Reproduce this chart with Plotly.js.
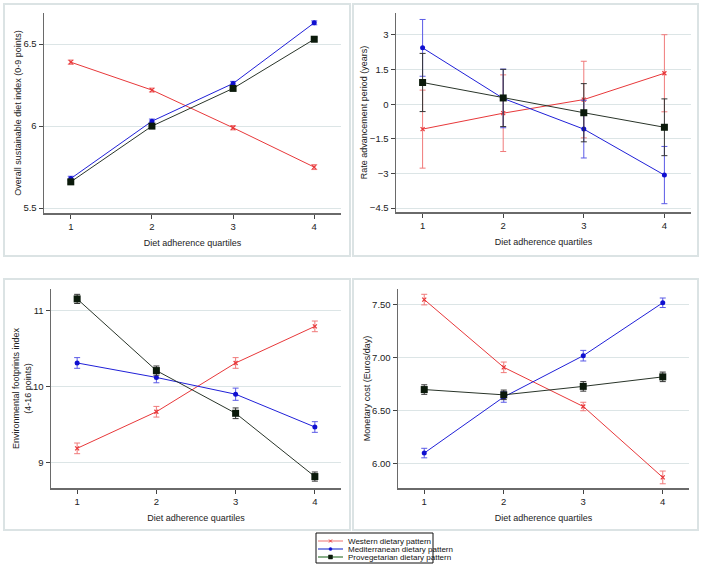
<!DOCTYPE html>
<html>
<head>
<meta charset="utf-8">
<script src="https://cdn.plot.ly/plotly-3.0.1.min.js"></script>
<style>
  html, body { margin: 0; padding: 0; background: #fff; }
  #chart { width: 702px; height: 566px; }
</style>
</head>
<body>
<div id="chart"></div>
<script>
// x positions: diet adherence quartiles
const quartiles = [1, 2, 3, 4];

// Overall sustainable diet index (0-9 points)
const sdiWestern = [6.39, 6.22, 5.99, 5.75];
const sdiWesternErr = [0.013, 0.012, 0.013, 0.015];
const sdiMed = [5.68, 6.03, 6.26, 6.63];
const sdiMedErr = [0.014, 0.013, 0.013, 0.012];
const sdiProveg = [5.66, 6.00, 6.23, 6.53];
const sdiProvegErr = [0.012, 0.012, 0.012, 0.011];

// Rate advancement period (years)
const rapWestern = [-1.08, -0.39, 0.20, 1.34];
const rapWesternErr = [1.69, 1.66, 1.66, 1.67];
const rapMed = [2.44, 0.25, -1.08, -3.07];
const rapMedErr = [1.23, 1.27, 1.25, 1.24];
const rapProveg = [0.94, 0.27, -0.37, -1.00];
const rapProvegErr = [1.26, 1.24, 1.26, 1.23];

// Environmental footprints index (4-16 points)
const envWestern = [9.19, 9.67, 10.31, 10.79];
const envWesternErr = [0.07, 0.07, 0.07, 0.07];
const envMed = [10.31, 10.12, 9.90, 9.47];
const envMedErr = [0.07, 0.07, 0.08, 0.07];
const envProveg = [11.15, 10.21, 9.65, 8.82];
const envProvegErr = [0.06, 0.06, 0.07, 0.06];

// Monetary cost (Euros/day)
const costWestern = [7.55, 6.91, 6.54, 5.87];
const costWesternErr = [0.05, 0.05, 0.04, 0.06];
const costMed = [6.10, 6.63, 7.02, 7.52];
const costMedErr = [0.045, 0.05, 0.05, 0.045];
const costProveg = [6.70, 6.65, 6.73, 6.82];
const costProvegErr = [0.045, 0.045, 0.045, 0.045];

const seriesNames = ['Western dietary pattern', 'Mediterranean dietary pattern', 'Provegetarian dietary pattern'];

const styles = [
    { line: '#e8383a', err: '#f07a7a', marker: { symbol: 'x-thin', size: 4, color: '#e8383a', line: { color: '#e8383a', width: 1.2 } } },
    { line: '#2020d8', err: '#5a5ae6', marker: { symbol: 'circle', size: 5, color: '#1010d0' } },
    { line: '#2a352a', err: '#333333', marker: { symbol: 'square', size: 7, color: '#0b1a0b' } }
];

function makeTrace(y, err, k, axisNum) {
    const s = styles[k];
    return {
        x: quartiles,
        y: y,
        name: seriesNames[k],
        type: 'scatter',
        mode: 'lines+markers',
        xaxis: 'x' + axisNum,
        yaxis: 'y' + axisNum,
        line: { color: s.line, width: 1 },
        marker: s.marker,
        error_y: { type: 'data', array: err, visible: true, color: s.err, thickness: 1, width: 3 },
        showlegend: false,
        hoverinfo: 'skip'
    };
}

const traces = [
    makeTrace(sdiWestern, sdiWesternErr, 0, ''),
    makeTrace(sdiMed, sdiMedErr, 1, ''),
    makeTrace(sdiProveg, sdiProvegErr, 2, ''),
    makeTrace(rapWestern, rapWesternErr, 0, 2),
    makeTrace(rapMed, rapMedErr, 1, 2),
    makeTrace(rapProveg, rapProvegErr, 2, 2),
    makeTrace(envWestern, envWesternErr, 0, 3),
    makeTrace(envMed, envMedErr, 1, 3),
    makeTrace(envProveg, envProvegErr, 2, 3),
    makeTrace(costWestern, costWesternErr, 0, 4),
    makeTrace(costMed, costMedErr, 1, 4),
    makeTrace(costProveg, costProvegErr, 2, 4)
];

const W = 702, H = 566;
const px = v => v / W;
const py = v => 1 - v / H;

const family = 'Liberation Sans, Arial, sans-serif';
const tickFont = { family: family, size: 9.5, color: '#222' };
const titleFont = { family: family, size: 9, color: '#222' };

function xAxis(x0, x1) {
    return {
        domain: [px(x0), px(x1)],
        range: [0.67, 4.33],
        tickvals: quartiles,
        ticks: 'outside', ticklen: 4, tickcolor: '#444', tickwidth: 1,
        showline: true, linecolor: '#6a6a6a', linewidth: 1.5,
        showgrid: false, zeroline: false,
        tickfont: tickFont,
        title: { text: 'Diet adherence quartiles', font: titleFont, standoff: 9 }
    };
}

function yAxis(y0, y1, range, ticks, fmt, title) {
    return {
        domain: [py(y1), py(y0)],
        range: range,
        tickvals: ticks,
        tickformat: fmt,
        ticks: 'outside', ticklen: 4, tickcolor: '#444', tickwidth: 1,
        showline: true, linecolor: '#6a6a6a', linewidth: 1.5,
        showgrid: true, gridcolor: '#dce5e6', gridwidth: 1,
        zeroline: false,
        tickfont: tickFont,
        title: { text: title, font: titleFont, standoff: 0 }
    };
}

// outer boxes around each panel
const boxes = [[4, 4, 350, 256], [353, 4, 698, 256], [4, 279, 350, 530], [353, 279, 698, 530]];
const shapes = boxes.map(b => ({
    type: 'rect', xref: 'paper', yref: 'paper',
    x0: px(b[0]), x1: px(b[2]), y0: py(b[3]), y1: py(b[1]),
    line: { color: '#dbe3e4', width: 2 }, layer: 'below'
}));

// legend box drawn by hand (Plotly's own legend rows are too tall)
shapes.push({
    type: 'rect', xref: 'paper', yref: 'paper',
    x0: px(316), x1: px(433), y0: py(563), y1: py(533),
    line: { color: '#111', width: 1 }
});
const legendLines = ['#f08a8a', '#3040d0', '#3a7a3a'];
const annotations = [];
const rowY = [541, 549, 557];
seriesNames.forEach((name, k) => {
    const yy = rowY[k];
    shapes.push({
        type: 'line', xref: 'paper', yref: 'paper',
        x0: px(318), x1: px(343), y0: py(yy), y1: py(yy),
        line: { color: legendLines[k], width: 1.2 }
    });
    if (k === 0) {
        shapes.push({ type: 'line', xref: 'paper', yref: 'paper', x0: px(329), x1: px(332), y0: py(yy - 1.5), y1: py(yy + 1.5), line: { color: '#e8383a', width: 1 } });
        shapes.push({ type: 'line', xref: 'paper', yref: 'paper', x0: px(329), x1: px(332), y0: py(yy + 1.5), y1: py(yy - 1.5), line: { color: '#e8383a', width: 1 } });
    } else if (k === 1) {
        shapes.push({ type: 'circle', xref: 'paper', yref: 'paper', x0: px(329), x1: px(332), y0: py(yy + 1.5), y1: py(yy - 1.5), fillcolor: '#1010d0', line: { color: '#1010d0', width: 0.5 } });
    } else {
        shapes.push({ type: 'rect', xref: 'paper', yref: 'paper', x0: px(328.5), x1: px(332.5), y0: py(yy + 2), y1: py(yy - 2), fillcolor: '#0b1a0b', line: { color: '#0b1a0b', width: 0.5 } });
    }
    annotations.push({
        xref: 'paper', yref: 'paper', x: px(346), y: py(yy),
        xanchor: 'left', yanchor: 'middle', showarrow: false,
        text: name, font: { family: family, size: 8, color: '#111' }
    });
});

const layout = {
    width: W, height: H,
    margin: { l: 0, r: 0, t: 0, b: 0 },
    paper_bgcolor: '#fff', plot_bgcolor: '#fff',
    font: tickFont,
    showlegend: false,
    xaxis: Object.assign(xAxis(44, 341), { anchor: 'y' }),
    yaxis: Object.assign(yAxis(13, 213, [5.47, 6.69], [5.5, 6, 6.5], '', 'Overall sustainable diet index (0-9 points)'), { anchor: 'x' }),
    xaxis2: Object.assign(xAxis(396, 691), { anchor: 'y2' }),
    yaxis2: Object.assign(yAxis(13, 212, [-4.67, 3.95], [-4.5, -3, -1.5, 0, 1.5, 3], '', 'Rate advancement period (years)'), { anchor: 'x2' }),
    xaxis3: Object.assign(xAxis(51, 341), { anchor: 'y3' }),
    yaxis3: Object.assign(yAxis(289, 488, [8.67, 11.28], [9, 10, 11], '', 'Environmental footprints index<br>(4-16 points)'), { anchor: 'x3' }),
    xaxis4: Object.assign(xAxis(398, 689), { anchor: 'y4' }),
    yaxis4: Object.assign(yAxis(289, 488, [5.77, 7.65], [6, 6.5, 7, 7.5], '.2f', 'Monetary cost (Euros/day)'), { anchor: 'x4' }),
    shapes: shapes,
    annotations: annotations
};

Plotly.newPlot('chart', traces, layout, { displayModeBar: false, staticPlot: true });
</script>
</body>
</html>
